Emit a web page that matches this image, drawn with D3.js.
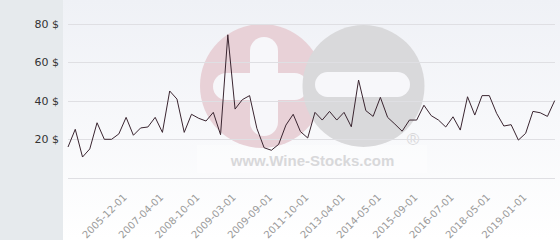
<!DOCTYPE html>
<html><head><meta charset="utf-8">
<script src="https://cdn.jsdelivr.net/npm/d3@7"></script>
<style>html,body{margin:0;padding:0;background:#fff;}svg{display:block;}</style>
</head><body>
<svg id="c" width="560" height="240"></svg>
<script>
const values = [16.1,25.3,10.9,15.1,28.7,20.1,20.1,22.9,31.5,22.2,26,26.5,31.5,23.7,45.2,41,23.7,33.1,31,29.6,34.1,22.5,74.4,35.8,40.7,42.8,25.8,15.7,14.4,17.5,27.5,33.1,24.1,20.8,34.1,30.1,34.6,30.1,34.1,26.6,50.9,35,32,41.9,31.5,28,24.3,30.1,30.1,37.8,32.4,30.1,26.5,31.8,24.9,42.2,32.7,42.8,42.8,33.6,27,27.7,19.7,23.2,34.6,33.9,32,40.2];
const tickLabels = ["2005-12-01","2007-04-01","2008-10-01","2009-03-01","2009-09-01","2011-10-01","2013-04-01","2014-05-01","2015-09-01","2016-07-01","2018-05-01","2019-01-01"];
const yTicks = [0,20,40,60,80];

const svg = d3.select("#c");
const W = 560, H = 240;
const defs = svg.append("defs");
const g1 = defs.append("linearGradient").attr("id","bg").attr("x1",0).attr("y1",0).attr("x2",0).attr("y2",1);
g1.append("stop").attr("offset","0%").attr("stop-color","#eff1f6");
g1.append("stop").attr("offset","100%").attr("stop-color","#ffffff");

svg.append("rect").attr("x",0).attr("y",0).attr("width",W).attr("height",H).attr("fill","url(#bg)");
svg.append("rect").attr("x",0).attr("y",0).attr("width",63).attr("height",H).attr("fill","#e6eaed");

const x = d3.scalePoint().domain(d3.range(values.length)).range([68, 554.7]);
const y = d3.scaleLinear().domain([0,80]).range([178,24]);

// watermark
const wm = svg.append("g");
wm.append("rect").attr("x",197).attr("y",145).attr("width",230).attr("height",28).attr("fill","#ffffff").attr("opacity",0.35);
wm.append("circle").attr("cx",262).attr("cy",86).attr("r",62).attr("fill","#e8d1d7");
wm.append("rect").attr("x",250).attr("y",37).attr("width",28).attr("height",99).attr("rx",14).attr("fill","#f7f7fa");
wm.append("rect").attr("x",213).attr("y",73).attr("width",95).attr("height",27).attr("rx",13.5).attr("fill","#f7f7fa");
wm.append("circle").attr("cx",363.5).attr("cy",86).attr("r",61).attr("fill","#d9d9db");
wm.append("rect").attr("x",315).attr("y",72).attr("width",95).attr("height",25).attr("rx",12.5).attr("fill","#f7f7fa");
wm.append("text").attr("x",312.5).attr("y",166).attr("text-anchor","middle")
  .attr("font-family","Liberation Sans, Arial, sans-serif").attr("font-weight","bold").attr("font-size",15)
  .attr("fill","#d8d8da").text("www.Wine-Stocks.com");
wm.append("text").attr("x",413).attr("y",145).attr("text-anchor","middle")
  .attr("font-family","Liberation Sans, Arial, sans-serif").attr("font-size",17)
  .attr("fill","#d8d8da").text("®");

// grid
svg.append("g").selectAll("line").data(yTicks).join("line")
  .attr("x1",68).attr("x2",555).attr("y1",d=>y(d)).attr("y2",d=>y(d))
  .attr("stroke","#dfdfe3").attr("stroke-width",1).attr("shape-rendering","crispEdges");

// y labels
svg.append("g").selectAll("text").data(yTicks.filter(d=>d>0)).join("text")
  .attr("x",59).attr("y",d=>y(d)).attr("dy","0.35em").attr("text-anchor","end")
  .attr("font-family","DejaVu Sans, sans-serif").attr("font-size",11).attr("fill","#333")
  .text(d=>d+" $");

// x axis labels
const tickIdx = tickLabels.map((_,i)=>8+i*5);
const xAxis = d3.axisBottom(x).tickValues(tickIdx).tickSize(0).tickFormat((d,i)=>tickLabels[i]);
const ax = svg.append("g").attr("transform","translate(0,178)").call(xAxis);
ax.select(".domain").remove();
ax.selectAll("text")
  .attr("font-family","DejaVu Sans, sans-serif").attr("font-size",10).attr("fill","#9a9a9a")
  .attr("text-anchor","end").attr("dy",0).attr("y",0)
  .attr("transform","translate(1,20) rotate(-45)");

// line
svg.append("path").datum(values)
  .attr("d", d3.line().x((d,i)=>x(i)).y(d=>y(d)))
  .attr("fill","none").attr("stroke","#3a2530").attr("stroke-width",1);
</script>
</body></html>
